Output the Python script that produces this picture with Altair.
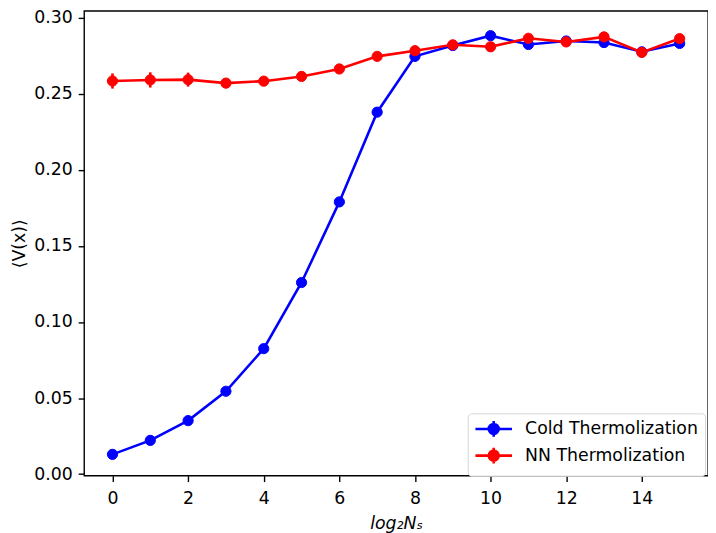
import altair as alt
import pandas as pd

# ---- data ----
x_vals = [0, 1, 2, 3, 4, 5, 6, 7, 8, 9, 10, 11, 12, 13, 14, 15]
series_names = ["Cold Thermolization", "NN Thermolization"]
cold_vals = [0.0130, 0.0222, 0.0352, 0.0545, 0.0825, 0.1260, 0.1790, 0.2380,
             0.2747, 0.2818, 0.2883, 0.2825, 0.2848, 0.2838, 0.2777, 0.2832]
cold_err = [0.0008, 0.0008, 0.0009, 0.0010, 0.0010, 0.0012, 0.0012, 0.0012,
            0.0012, 0.0012, 0.0012, 0.0012, 0.0012, 0.0012, 0.0012, 0.0012]
nn_vals = [0.2585, 0.2592, 0.2594, 0.2571, 0.2584, 0.2615, 0.2664, 0.2747,
           0.2784, 0.2823, 0.2810, 0.2866, 0.2842, 0.2875, 0.2773, 0.2864]
nn_err = [0.0050, 0.0050, 0.0046, 0.0022, 0.0020, 0.0020, 0.0018, 0.0018,
          0.0016, 0.0016, 0.0016, 0.0016, 0.0016, 0.0016, 0.0016, 0.0016]
x_ticks = [0, 2, 4, 6, 8, 10, 12, 14]
y_ticks = [0.00, 0.05, 0.10, 0.15, 0.20, 0.25, 0.30]
colors = ["#0000ff", "#ff0000"]

rows = []
for name, vals, errs in [(series_names[0], cold_vals, cold_err),
                         (series_names[1], nn_vals, nn_err)]:
    for xv, yv, ev in zip(x_vals, vals, errs):
        rows.append({"series": name, "x": xv, "y": yv,
                     "lo": yv - ev, "hi": yv + ev})
df = pd.DataFrame(rows)

FONT = "DejaVu Sans"
FS = 17.5

xs = alt.Scale(domain=[-0.75, 15.75], nice=False, zero=False)
ys = alt.Scale(domain=[-0.001, 0.30455], nice=False, zero=False)
cs = alt.Scale(domain=series_names, range=colors)

x_axis = alt.Axis(values=x_ticks, title="log₂Nₛ", titleFontStyle="italic",
                  labelPadding=8, titlePadding=8, format="d")
y_axis = alt.Axis(values=y_ticks, title="⟨V(x)⟩", format=".2f",
                  labelPadding=6, titlePadding=5)

# legend glyph: line, error bar and a disc made of concentric rings (stroke only)
sym_path = ("M-2.64,0H2.64M0,-1.14V1.14"
            "M-0.72,0A0.72,0.72 0 1,0 0.72,0A0.72,0.72 0 1,0 -0.72,0Z"
            "M-0.45,0A0.45,0.45 0 1,0 0.45,0A0.45,0.45 0 1,0 -0.45,0Z"
            "M-0.16,0A0.16,0.16 0 1,0 0.16,0A0.16,0.16 0 1,0 -0.16,0Z")

legend = alt.Legend(
    title=None, orient="none", legendX=388, legendY=407,
    symbolType=sym_path, symbolSize=196, symbolStrokeWidth=2.6,
    symbolOffset=10.5, labelOffset=23, rowPadding=0, labelLimit=400,
    labelFont=FONT, labelFontSize=FS, labelColor="black",
    padding=7, strokeColor="#d6d6d6", fillColor="white", cornerRadius=3.5,
)


def series_layers(name, col):
    base = alt.Chart(df).transform_filter(alt.datum.series == name)
    X = alt.X("x:Q", scale=xs, axis=x_axis)
    err = base.mark_rule(strokeWidth=2.6, color=col).encode(
        x=X, y=alt.Y("lo:Q", scale=ys, axis=y_axis), y2="hi:Q")
    line = base.mark_line(strokeWidth=2.6).encode(
        x=X, y=alt.Y("y:Q", scale=ys, axis=y_axis),
        color=alt.Color("series:N", scale=cs, legend=legend))
    pts = base.mark_circle(size=107, opacity=1, strokeWidth=1,
                           fill=col, stroke=col).encode(
        x=X, y=alt.Y("y:Q", scale=ys, axis=y_axis))
    return [err, line, pts]


layers = (series_layers(series_names[0], colors[0])
          + series_layers(series_names[1], colors[1]))

chart = alt.layer(*layers).properties(
    width=631, height=470,
    background="white",
    autosize=alt.AutoSizeParams(type="none"),
    padding={"left": 77, "top": 0, "right": 0, "bottom": 55},
).configure_view(
    stroke="black", strokeWidth=1.4
).configure_axis(
    grid=False, domain=False, tickColor="black", tickWidth=1.4, tickSize=6,
    labelFont=FONT, labelFontSize=FS, labelColor="black",
    titleFont=FONT, titleFontSize=FS, titleColor="black",
    titleFontWeight="normal",
)

chart.save("out.html", embed_options={"renderer": "svg", "actions": False})
